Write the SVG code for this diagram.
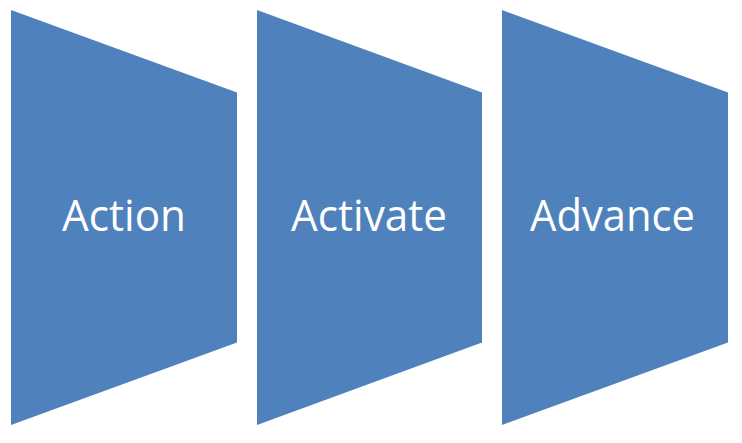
<svg xmlns="http://www.w3.org/2000/svg" width="742" height="443" viewBox="0 0 742 443">
<style>
.shape{fill:#4F81BD;}
.lbl{fill:#FFFFFF;font-family:"Open Sans","Liberation Sans",sans-serif;font-size:43px;text-anchor:middle;}
</style>
<rect width="742" height="443" fill="#FFFFFF"/>
<g id="connectors"></g>
<g id="node-action">
<polygon class="shape" points="11,10 237,92.5 237,342.5 11,425"/>
<text class="lbl" x="124" y="231" textLength="124" lengthAdjust="spacingAndGlyphs">Action</text>
</g>
<g id="node-activate">
<polygon class="shape" points="257,10 482,92.5 482,342.5 257,425"/>
<text class="lbl" x="369" y="231" textLength="156" lengthAdjust="spacingAndGlyphs">Activate</text>
</g>
<g id="node-advance">
<polygon class="shape" points="502,10 728,92.5 728,342.5 502,425"/>
<text class="lbl" x="612.5" y="231" textLength="165" lengthAdjust="spacingAndGlyphs">Advance</text>
</g>
</svg>
